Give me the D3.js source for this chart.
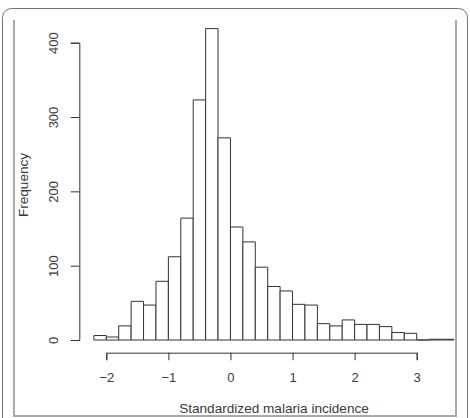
<!DOCTYPE html>
<html>
<head>
<meta charset="utf-8">
<script src="https://cdn.jsdelivr.net/npm/d3@7"></script>
<style>
  body { margin: 0; background: #fff; }
  text { font-family: "Liberation Sans", Arial, sans-serif; fill: #3a3a3a; }
</style>
</head>
<body>
<div id="chart"></div>
<script>
// Histogram bins (width 0.2) and counts
const binStarts = [-2.2, -2.0, -1.8, -1.6, -1.4, -1.2, -1.0, -0.8, -0.6, -0.4,
                   -0.2, 0.0, 0.2, 0.4, 0.6, 0.8, 1.0, 1.2, 1.4, 1.6,
                   1.8, 2.0, 2.2, 2.4, 2.6, 2.8, 3.0, 3.2, 3.4];
const counts = [6, 4, 19, 52, 47, 79, 112, 164, 323, 419,
                272, 152, 132, 98, 72, 66, 48, 47, 22, 19,
                27, 21, 21, 18, 10, 9, 0, 1, 1];
const binWidth = 0.2;
const xTicks = [-2, -1, 0, 1, 2, 3];
const yTicks = [0, 100, 200, 300, 400];

const width = 470, height = 418;

const svg = d3.select("#chart").append("svg")
    .attr("width", width)
    .attr("height", height);

// outer rounded frame + inner gray frame
svg.append("rect")
    .attr("x", 2.5).attr("y", 8.5)
    .attr("width", 465).attr("height", 430)
    .attr("rx", 9)
    .attr("fill", "none")
    .attr("stroke", "#777")
    .attr("stroke-width", 1);

svg.append("path")
    .attr("d", "M14,20 V416 H456 V20")
    .attr("fill", "none")
    .attr("stroke", "#aaa")
    .attr("stroke-width", 2);

// scales
const x = d3.scaleLinear().domain([-2, 3]).range([106.3, 416.7]);
const y = d3.scaleLinear().domain([0, 400]).range([340, 42.7]);

const bins = binStarts.map((b, i) => ({x0: b, x1: b + binWidth, n: counts[i]}));

// bars drawn as closed paths so empty bins still show a line, like R's hist
svg.append("g").selectAll("path")
    .data(bins)
    .enter()
    .append("path")
    .attr("d", d => `M${x(d.x0)},${y(0)}V${y(d.n)}H${x(d.x1)}V${y(0)}Z`)
    .attr("fill", "#fff")
    .attr("stroke", "#333")
    .attr("stroke-width", 1);

// y axis (R style, rotated labels)
const yAxis = svg.append("g")
    .attr("transform", "translate(79.3,0)")
    .call(d3.axisLeft(y).tickValues(yTicks).tickSizeOuter(0).tickSize(8.5).tickFormat(d3.format("d")));
yAxis.select(".domain").attr("stroke", "#333");
yAxis.selectAll(".tick line").attr("stroke", "#333");
yAxis.selectAll(".tick text")
    .attr("x", null).attr("dy", null)
    .attr("transform", "translate(-21.5,0) rotate(-90)")
    .attr("text-anchor", "middle")
    .style("font-size", "13px")
    .style("fill", "#3a3a3a");

// x axis
const xAxis = svg.append("g")
    .attr("transform", "translate(0,352.7)")
    .call(d3.axisBottom(x).tickValues(xTicks).tickSizeOuter(0).tickSize(7.5)
        .tickFormat(d => d < 0 ? "\u2212" + Math.abs(d) : d));
xAxis.select(".domain").attr("stroke", "#333");
xAxis.selectAll(".tick line").attr("stroke", "#333");
xAxis.selectAll(".tick text")
    .attr("y", 29.5).attr("dy", null)
    .style("font-size", "13px")
    .style("fill", "#3a3a3a");

// axis titles
svg.append("text")
    .attr("x", 274)
    .attr("y", 412.5)
    .attr("text-anchor", "middle")
    .style("font-size", "13.6px")
    .text("Standardized malaria incidence");

svg.append("text")
    .attr("transform", "translate(27.5,185) rotate(-90)")
    .attr("text-anchor", "middle")
    .style("font-size", "13.6px")
    .text("Frequency");
</script>
</body>
</html>
